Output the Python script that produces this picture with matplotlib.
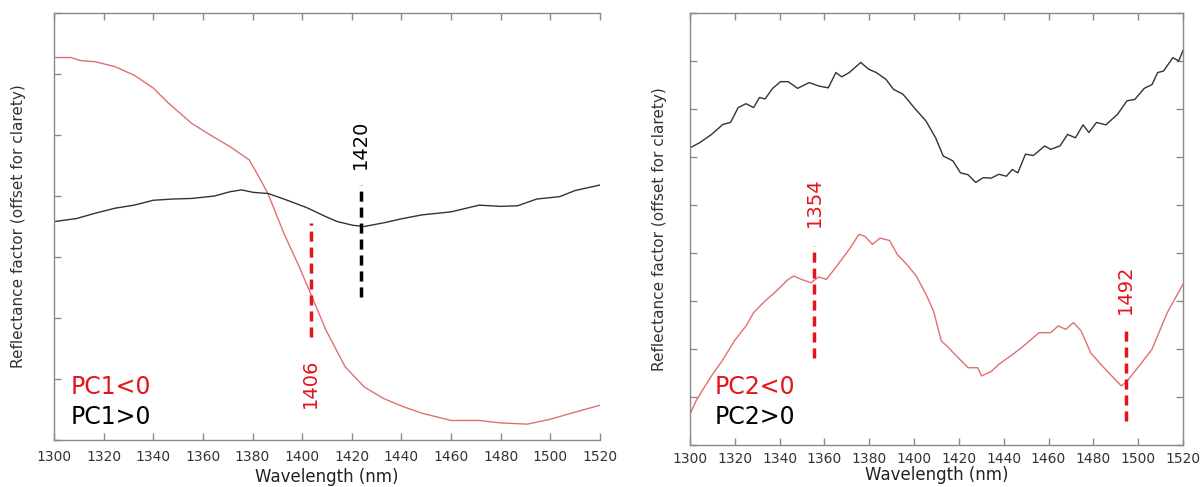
import matplotlib.pyplot as plt
import numpy as np

# ---- PC1 panel (left) ----
pc1_neg_x = [1300, 1306.8, 1310.7, 1316.8, 1324.6, 1332.3, 1340, 1346.2, 1355.5, 1363, 1370.9,
             1378.7, 1383.3, 1386.4, 1392.6, 1398.8, 1403.4, 1409.6, 1417.3, 1425, 1432.8,
             1440.5, 1448.2, 1460, 1471.3, 1480, 1490.7, 1500, 1508.5, 1520]
pc1_neg_y = [6.27, 6.27, 6.22, 6.20, 6.12, 5.98, 5.77, 5.52, 5.19, 5.00, 4.81,
             4.59, 4.26, 4.02, 3.39, 2.84, 2.40, 1.80, 1.20, 0.87, 0.68,
             0.55, 0.44, 0.32, 0.32, 0.28, 0.26, 0.34, 0.44, 0.57]
pc1_pos_x = [1300, 1309, 1316.8, 1324.6, 1332.3, 1340, 1347.7, 1355.5, 1364.7, 1370.9, 1375.6,
             1380.2, 1386.4, 1394, 1401.8, 1409.6, 1414.2, 1420.4, 1425, 1432.8, 1440.5,
             1448.2, 1460, 1471.3, 1480, 1486.8, 1494.5, 1503.8, 1510, 1520]
pc1_pos_y = [3.58, 3.63, 3.72, 3.80, 3.85, 3.93, 3.95, 3.96, 4.00, 4.07, 4.10,
             4.06, 4.04, 3.93, 3.81, 3.66, 3.58, 3.52, 3.50, 3.56, 3.63,
             3.69, 3.74, 3.85, 3.83, 3.84, 3.95, 3.99, 4.09, 4.18]

# ---- PC2 panel (right) ----
pc2_pos_x = [1300, 1304.4, 1309.6, 1314.7, 1318.1, 1321.5, 1325, 1328.4, 1331, 1333.5, 1336.9,
             1340.4, 1343.8, 1348, 1353.2, 1357.4, 1361.7, 1365.1, 1367.7, 1371.1, 1376.2,
             1379.7, 1383.1, 1387.4, 1390.8, 1395, 1400, 1405.3, 1409.6, 1413, 1417.3,
             1420.7, 1424.1, 1427.5, 1430.9, 1434.4, 1437.8, 1441.2, 1443.8, 1446.3, 1449.7,
             1453.2, 1458.3, 1460.9, 1465.1, 1468.5, 1472, 1475.4, 1478, 1481.4, 1485.6,
             1490.8, 1495, 1498.5, 1502.7, 1506.2, 1508.7, 1511.3, 1515.5, 1518.1, 1520]
pc2_pos_y = [6.19, 6.30, 6.47, 6.68, 6.72, 7.03, 7.11, 7.03, 7.24, 7.21, 7.43,
             7.57, 7.57, 7.43, 7.55, 7.48, 7.44, 7.76, 7.67, 7.76, 7.97,
             7.83, 7.76, 7.62, 7.41, 7.31, 7.03, 6.75, 6.40, 6.02, 5.92,
             5.67, 5.63, 5.47, 5.57, 5.56, 5.64, 5.60, 5.74, 5.67, 6.06,
             6.03, 6.23, 6.16, 6.23, 6.47, 6.40, 6.67, 6.51, 6.72, 6.67,
             6.89, 7.17, 7.20, 7.43, 7.51, 7.76, 7.79, 8.07, 8.00, 8.22]
pc2_neg_x = [1300, 1302.7, 1306.2, 1309.6, 1314.7, 1319.8, 1325, 1328.4, 1333.5, 1338.6, 1343.8,
             1346.3, 1349.7, 1354, 1357.4, 1360.9, 1366, 1371.1, 1375.4, 1378, 1381.4,
             1384.8, 1389.1, 1392.5, 1396.8, 1401, 1405.3, 1408.7, 1412.1, 1414.7, 1419,
             1424.1, 1428.4, 1430.1, 1434.4, 1437.8, 1442.9, 1448, 1451.5, 1455.8, 1460.9,
             1464.3, 1467.7, 1471.1, 1474.5, 1478.8, 1483.9, 1489, 1492.5, 1495, 1499.3,
             1506.1, 1513, 1520]
pc2_neg_y = [0.64, 0.92, 1.19, 1.44, 1.78, 2.17, 2.48, 2.76, 3.00, 3.21, 3.45,
             3.52, 3.45, 3.38, 3.50, 3.45, 3.76, 4.08, 4.39, 4.35, 4.18,
             4.31, 4.26, 3.97, 3.76, 3.52, 3.14, 2.79, 2.17, 2.06, 1.85,
             1.61, 1.61, 1.44, 1.53, 1.68, 1.85, 2.03, 2.17, 2.34, 2.34,
             2.48, 2.41, 2.55, 2.38, 1.92, 1.65, 1.40, 1.23, 1.33, 1.58,
             1.99, 2.76, 3.35]

# marked bands: (label, x position, line bottom, line top, label y, colour)
pc1_marks = [("1406", 1403.4, 1.69, 3.55, 0.93, "red"),
             ("1420", 1423.5, 2.35, 4.18, 4.84, "black")]
pc2_marks = [("1354", 1355.5, 1.82, 4.15, 5.05, "red"),
             ("1492", 1494.5, 0.50, 2.41, 3.24, "red")]

W, H = 1202, 487
fig = plt.figure(figsize=(W / 100, H / 100), dpi=100)
ax1 = fig.add_axes([54 / W, (H - 440) / H, 546 / W, 427 / H])
ax2 = fig.add_axes([690 / W, (H - 445) / H, 493 / W, 432 / H])

CURVE_RED = '#e07070'
CURVE_BLK = '#333333'
MARK_RED = '#e3141c'
SPINE = '#8a8a8a'


def style(ax, ymax, right_spine=True, pad=7, labelpad=3):
    ax.set_xlim(1300, 1520)
    ax.set_ylim(0, ymax)
    ax.set_xticks(np.arange(1300, 1521, 20))
    ax.set_yticks(np.arange(0, ymax + 1, 1))
    ax.set_yticklabels([])
    ax.tick_params(direction='in', length=5, width=1, color=SPINE, labelsize=10,
                   labelcolor='#333333', top=True, right=right_spine, pad=pad)
    for s in ax.spines.values():
        s.set_color(SPINE)
        s.set_linewidth(1)
    if not right_spine:
        ax.spines['right'].set_visible(False)
    ax.set_xlabel('Wavelength (nm)', fontsize=12, color='#222222', labelpad=labelpad)
    ax.set_ylabel('Reflectance factor (offset for clarety)', fontsize=11, color='#333333')


def marks(ax, items):
    for lab, x, y0, y1, ty, c in items:
        col = MARK_RED if c == "red" else 'black'
        ax.plot([x, x], [y0, y1], color=col, lw=2.5, dashes=(2.9, 1.7))
        ax.text(x, ty, lab, rotation=90, color=col, fontsize=14, ha='center', va='center')


style(ax1, 7, right_spine=False)
ax1.plot(pc1_neg_x, pc1_neg_y, color=CURVE_RED, lw=1)
ax1.plot(pc1_pos_x, pc1_pos_y, color=CURVE_BLK, lw=1)
marks(ax1, pc1_marks)
ax1.text(0.031, 0.125, 'PC1<0', transform=ax1.transAxes, color=MARK_RED, fontsize=17, va='center')
ax1.text(0.031, 0.055, 'PC1>0', transform=ax1.transAxes, color='black', fontsize=17, va='center')
ax1.yaxis.set_label_coords(-0.052, 0.5)

style(ax2, 9, pad=5, labelpad=0)
ax2.plot(pc2_neg_x, pc2_neg_y, color=CURVE_RED, lw=1)
ax2.plot(pc2_pos_x, pc2_pos_y, color=CURVE_BLK, lw=1)
marks(ax2, pc2_marks)
ax2.text(0.05, 0.135, 'PC2<0', transform=ax2.transAxes, color=MARK_RED, fontsize=17, va='center')
ax2.text(0.05, 0.065, 'PC2>0', transform=ax2.transAxes, color='black', fontsize=17, va='center')
ax2.yaxis.set_label_coords(-0.047, 0.5)

fig.savefig('out.png', dpi=100)
